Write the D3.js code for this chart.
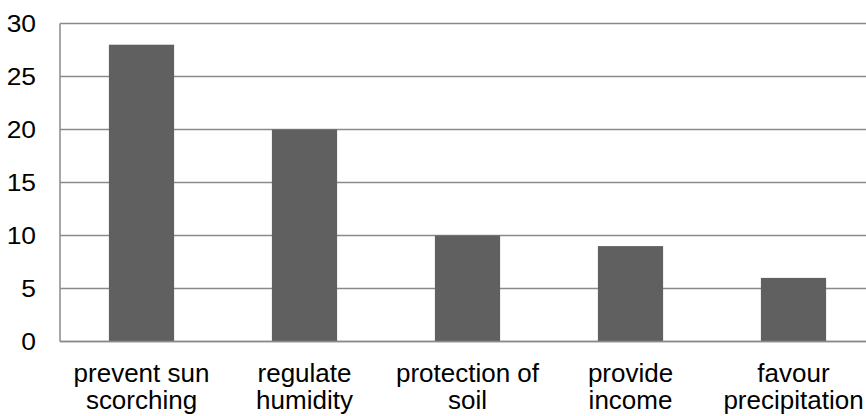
<!DOCTYPE html>
<html>
<head>
<meta charset="utf-8">
<script src="https://cdn.jsdelivr.net/npm/d3@7"></script>
<style>
  html, body { margin: 0; padding: 0; background: #fff; }
  svg { display: block; font-family: "Liberation Sans", Arial, sans-serif; }
</style>
</head>
<body>
<svg id="chart" width="866" height="416"></svg>
<script>
// Reasons given for keeping trees (count of responses)
const categories = [
  ["prevent sun", "scorching"],
  ["regulate", "humidity"],
  ["protection of", "soil"],
  ["provide", "income"],
  ["favour", "precipitation"]
];
const values = [28, 20, 10, 9, 6];
const yTicks = [0, 5, 10, 15, 20, 25, 30];

const svg = d3.select("#chart");
const plotLeft = 60, plotRight = 875, plotTop = 23.5, plotBottom = 341.5;
const tickStretch = 1.1;
const catStretch = 1.04;

const x = d3.scaleBand()
  .domain(d3.range(categories.length))
  .range([plotLeft, plotRight])
  .paddingInner(0.6)
  .paddingOuter(0.3);

const y = d3.scaleLinear().domain([0, 30]).range([plotBottom, plotTop]);

// horizontal gridlines
svg.append("g")
  .selectAll("line")
  .data(yTicks)
  .join("line")
  .attr("x1", plotLeft)
  .attr("x2", 866)
  .attr("y1", d => y(d))
  .attr("y2", d => y(d))
  .attr("stroke", "#8a8a8a")
  .attr("stroke-width", 1.5);

// bars
svg.append("g")
  .selectAll("rect")
  .data(values)
  .join("rect")
  .attr("x", (d, i) => x(i))
  .attr("width", x.bandwidth())
  .attr("y", d => y(d))
  .attr("height", d => y(0) - y(d))
  .attr("fill", "#606060");

// value axis line
svg.append("line")
  .attr("x1", plotLeft).attr("x2", plotLeft)
  .attr("y1", plotTop).attr("y2", plotBottom)
  .attr("stroke", "#8a8a8a")
  .attr("stroke-width", 1.5);

// baseline
svg.append("line")
  .attr("x1", plotLeft).attr("x2", 866)
  .attr("y1", y(0)).attr("y2", y(0))
  .attr("stroke", "#8a8a8a")
  .attr("stroke-width", 1.5);

// y tick labels
svg.append("g")
  .selectAll("text")
  .data(yTicks)
  .join("text")
  .attr("transform", d => `translate(36,${y(d)}) scale(${tickStretch},1)`)
  .attr("dy", "0.36em")
  .attr("text-anchor", "end")
  .attr("font-size", 24)
  .attr("fill", "#000")
  .text(d => d);

// category labels, two lines each
const cat = svg.append("g")
  .selectAll("text")
  .data(categories)
  .join("text")
  .attr("text-anchor", "middle")
  .attr("font-size", 25)
  .attr("fill", "#000")
  .attr("transform", (d, i) => `translate(${x(i) + x.bandwidth() / 2},382) scale(${catStretch},1)`);

cat.selectAll("tspan")
  .data(d => d)
  .join("tspan")
  .attr("x", 0)
  .attr("dy", (d, i) => i === 0 ? 0 : 27)
  .text(d => d);
</script>
</body>
</html>
